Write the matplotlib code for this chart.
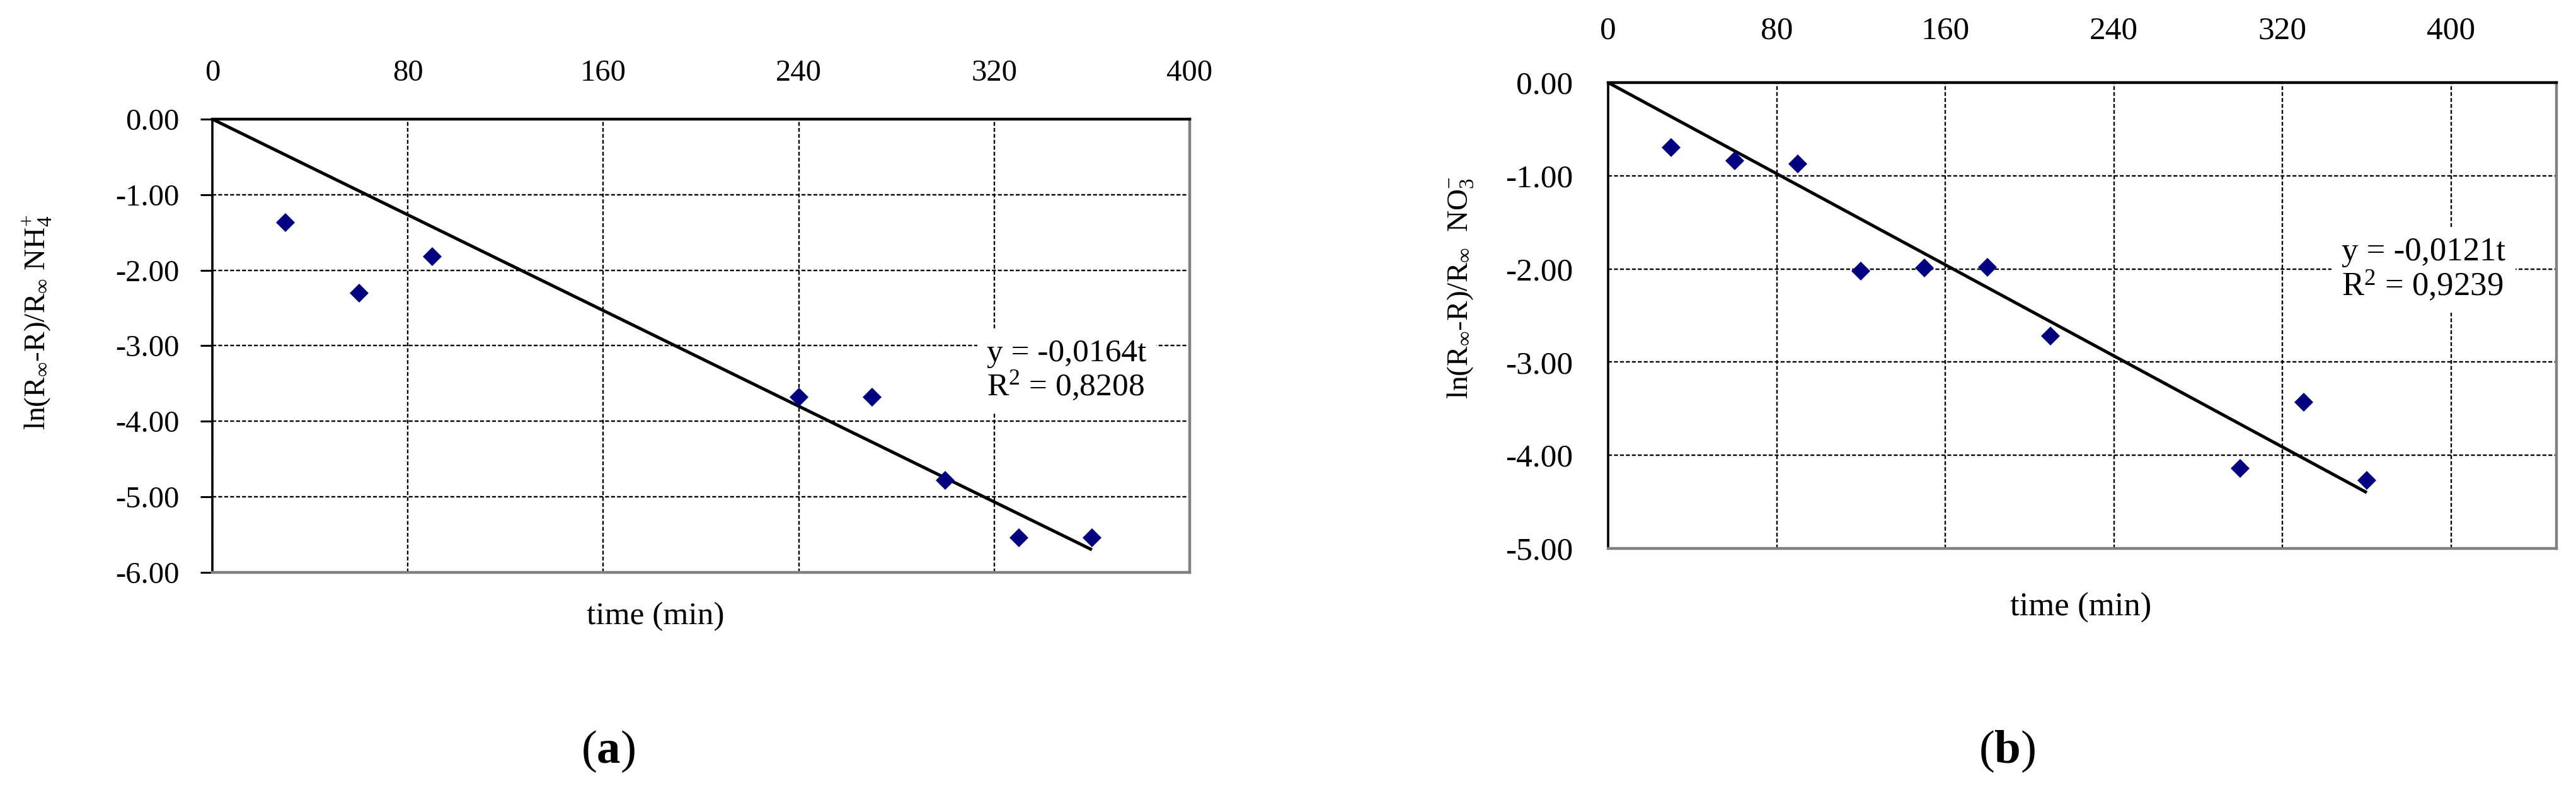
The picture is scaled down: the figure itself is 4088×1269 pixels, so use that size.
import matplotlib
matplotlib.use("Agg")
import matplotlib.pyplot as plt
from matplotlib.ticker import FixedLocator, FormatStrFormatter

plt.rcParams['font.family'] = ['Liberation Serif', 'DejaVu Serif']
plt.rcParams['mathtext.fontset'] = 'custom'
plt.rcParams['mathtext.rm'] = 'Liberation Serif'
plt.rcParams['mathtext.it'] = 'Liberation Serif:italic'
plt.rcParams['mathtext.bf'] = 'Liberation Serif:bold'
plt.rcParams['axes.unicode_minus'] = False

# ---------------- data ----------------
# panel (a): NH4+
time_a = [30, 60, 90, 240, 270, 300, 330, 360]
lnr_a = [-1.37, -2.30, -1.82, -3.68, -3.68, -4.78, -5.54, -5.54]
fit_t_a = [0, 360]
fit_y_a = [0.0, -5.70]
eq_a = "y = -0,0164t\nR$^{2}$ = 0,8208"

# panel (b): NO3-
time_b = [30, 60, 90, 120, 150, 180, 210, 300, 330, 360]
lnr_b = [-0.70, -0.84, -0.87, -2.02, -1.99, -1.98, -2.72, -4.14, -3.43, -4.27]
fit_t_b = [0, 360]
fit_y_b = [0.0, -4.40]
eq_b = "y = -0,0121t\nR$^{2}$ = 0,9239"

xticks = [0, 80, 160, 240, 320, 400]
yticks_a = [0, -1, -2, -3, -4, -5, -6]
yticks_b = [0, -1, -2, -3, -4, -5]

ylabel_a = r"ln(R$_{\infty}$-R)/R$_{\infty}$ NH$_{4}^{+}$"
ylabel_b = r"ln(R$_{\infty}$-R)/R$_{\infty}$  NO$_{3}^{-}$"
xlabel = "time (min)"

W, H = 4088, 1269
fig = plt.figure(figsize=(W / 100, H / 100), dpi=100)

def px_axes(l, t, r, b):
    return [l / W, (H - b) / H, (r - l) / W, (b - t) / H]

ax_a = fig.add_axes(px_axes(337, 189, 1888, 908))
ax_b = fig.add_axes(px_axes(2552, 131, 4057, 870))

marker_color = '#000080'
grid_kw = dict(color='black', linewidth=1.7, linestyle=(0, (2.6, 1.4)))

def style(ax, xlim, ylim, yticks, tick_fs, xpad, ypad, ytick_len):
    ax.set_xlim(*xlim)
    ax.set_ylim(*ylim)
    ax.xaxis.tick_top()
    ax.xaxis.set_major_locator(FixedLocator(xticks))
    ax.yaxis.set_major_locator(FixedLocator(yticks))
    ax.yaxis.set_major_formatter(FormatStrFormatter('%.2f'))
    ax.tick_params(axis='x', length=0, pad=xpad, labelsize=tick_fs)
    ax.tick_params(axis='y', length=ytick_len, width=2.2, pad=ypad,
                   labelsize=tick_fs, direction='out', color='black')
    ax.set_axisbelow(True)
    ax.grid(True, **grid_kw)
    ax.spines['top'].set_color('black')
    ax.spines['top'].set_linewidth(3.2)
    ax.spines['left'].set_color('black')
    ax.spines['left'].set_linewidth(2.6)
    ax.spines['right'].set_color('#808080')
    ax.spines['right'].set_linewidth(3.2)
    ax.spines['bottom'].set_color('#808080')
    ax.spines['bottom'].set_linewidth(3.2)

style(ax_a, (0, 400), (-6, 0), yticks_a, 35, 37, 24, 13.5)
style(ax_b, (0, 450), (-5, 0), yticks_b, 37, 42, 40, 0)

for ax, t, v, ft, fy in [(ax_a, time_a, lnr_a, fit_t_a, fit_y_a),
                         (ax_b, time_b, lnr_b, fit_t_b, fit_y_b)]:
    ax.plot(ft, fy, color='black', linewidth=3.6, solid_capstyle='butt', zorder=3)
    ax.plot(t, v, linestyle='none', marker='D', markersize=15,
            color=marker_color, markeredgewidth=0, zorder=4)

bbox = dict(boxstyle='square,pad=0.3', facecolor='white', edgecolor='none')
ax_a.text(317, -3.33, eq_a, fontsize=37, ha='left', va='center',
          linespacing=1.05, bbox=bbox, zorder=5)
ax_b.text(348, -2.01, eq_b, fontsize=38, ha='left', va='center',
          linespacing=1.05, bbox=bbox, zorder=5)

# axis titles
ax_a.text(-0.179, 0.552, ylabel_a, transform=ax_a.transAxes, rotation=90,
          ha='center', va='center', fontsize=34)
ax_b.text(-0.155, 0.56, ylabel_b, transform=ax_b.transAxes, rotation=90,
          ha='center', va='center', fontsize=34)

fig.text(1040 / W, 1 - 978 / H, xlabel, ha='center', va='center', fontsize=37)
fig.text(3302 / W, 1 - 964 / H, xlabel, ha='center', va='center', fontsize=38)

fig.text(965 / W, 1 - 1192 / H, r"($\mathbf{a}$)", ha='center', va='center', fontsize=54)
fig.text(3185 / W, 1 - 1192 / H, r"($\mathbf{b}$)", ha='center', va='center', fontsize=54)

fig.savefig("out.png", dpi=100, facecolor='white')
